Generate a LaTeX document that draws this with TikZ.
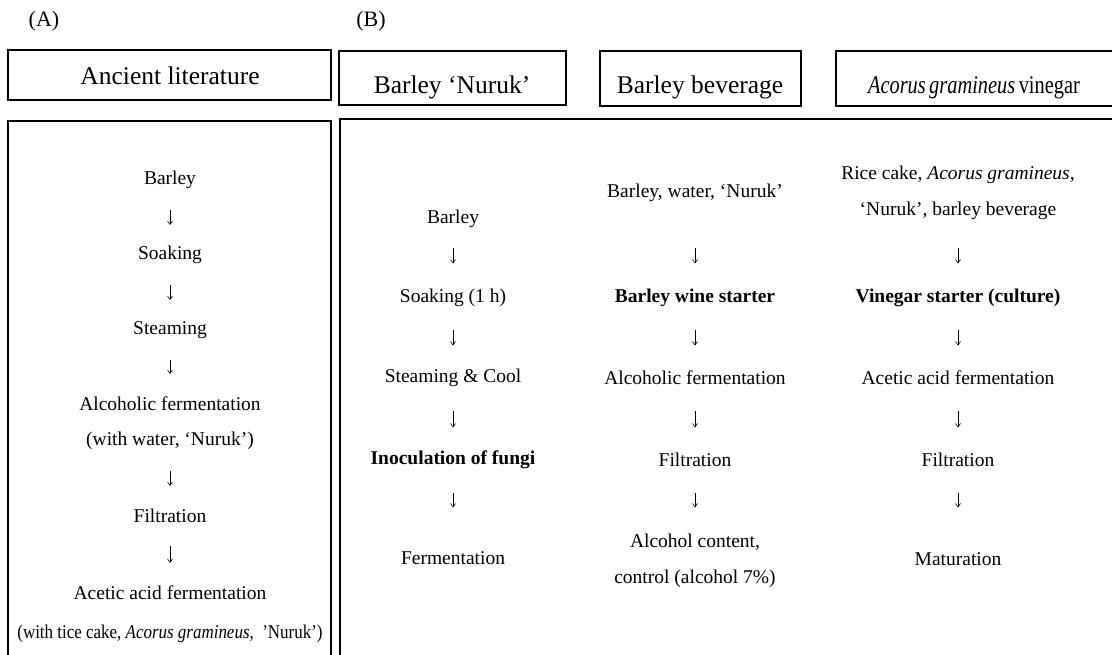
\documentclass[tikz,border=0pt]{standalone}
\usepackage{fontspec}
\setmainfont{Liberation Serif}
\usepackage{graphicx}
\usetikzlibrary{arrows.meta}
\begin{document}
\begin{tikzpicture}[x=1pt,y=-1pt]
			\tikzset{frame/.style={draw=black, line width=1.2pt},
				head/.style={anchor=base, font=\fontsize{25.5}{30}\selectfont},
				tag/.style={anchor=base, font=\fontsize{22}{26}\selectfont},
				item/.style={inner sep=0, font=\fontsize{19.5}{23}\selectfont},
				flow/.style={line width=0.6pt, -{Straight Barb[length=3.5pt,width=5pt]}, shorten <=30pt, shorten >=30pt},
				bflow/.style={flow, shorten <=32.5pt, shorten >=32.5pt}}
\useasboundingbox (0,0) rectangle (1112,655);
\clip (0,0) rectangle (1112,655);

% labels and headers
\node[tag] at (44, 27) (ta) {(A)};
\node[tag] at (371, 27) (tb) {(B)};
\draw[frame] (8, 50) rectangle (331, 100);
\draw[frame] (339, 51) rectangle (566, 105);
\draw[frame] (600, 51) rectangle (801, 106);
\draw[frame] (836, 51) rectangle (1130, 106);
\node[head] at (170, 85) (ha) {Ancient literature};
\node[head] at (452, 94) (hb) {Barley ‘Nuruk’};
\node[head] at (700, 94) (hc) {Barley beverage};
\node[head] at (974, 94) (hd) {\scalebox{0.8}[1]{\textit{Acorus\,gramineus}\,vinegar}};

% big boxes
\draw[frame] (8, 121) rectangle (331, 700);
\draw[frame] (340, 119) rectangle (1130, 700);

% (A) ancient literature
\node[item] at (170, 180) (a1) {Barley};
\node[item] at (170, 255) (a2) {Soaking};
\node[item] at (170, 330) (a3) {Steaming};
\node[item] at (170, 404) (a4) {Alcoholic fermentation};
\node[item] at (170, 441) (a5) {(with water, ‘Nuruk’)};
\node[item] at (170, 516) (a6) {Filtration};
\node[item] at (170, 593) (a7) {Acetic acid fermentation};
\node[item] at (170, 634) (a8) {\scalebox{0.87}[1]{(with tice cake, \textit{Acorus gramineus,}\ \ ’Nuruk’)}};
			\draw [flow] (a1.center) -- (a2.center);
			\draw [flow] (a2.center) -- (a3.center);
			\draw [flow] (a3.center) -- (a4.center);
			\draw [flow] (a5.center) -- (a6.center);
			\draw [flow] (a6.center) -- (a7.center);

% (B) barley nuruk
\node[item] at (453, 219) (b1) {Barley};
\node[item] at (453, 298) (b2) {Soaking (1 h)};
\node[item] at (453, 378) (b3) {Steaming \& Cool};
\node[item] at (453, 460) (b4) {\textbf{Inoculation of fungi}};
\node[item] at (453, 558) (b5) {Fermentation};
			\draw [bflow, shorten <=29.5pt, shorten >=34.5pt] (b1.center) -- (b2.center);
			\draw [bflow] (b2.center) -- (b3.center);
			\draw [bflow] (b3.center) -- (b4.center);
			\draw [bflow, shorten >=50.5pt] (b4.center) -- (b5.center);

% barley beverage
\node[item] at (695, 193) (c1) {Barley, water, ‘Nuruk’};
\node[item] at (695, 298) (c2) {\textbf{Barley wine starter}};
\node[item] at (695, 378) (c3) {Alcoholic fermentation};
\node[item] at (695, 460) (c4) {Filtration};
\node[item] at (695, 542) (c5) {Alcohol content,};
\node[item] at (695, 579) (c6) {control (alcohol 7\%)};
			\draw [bflow, shorten <=55.5pt, shorten >=34.5pt] (c1.center) -- (c2.center);
			\draw [bflow] (c2.center) -- (c3.center);
			\draw [bflow] (c3.center) -- (c4.center);
			\draw [bflow, shorten >=34.5pt] (c4.center) -- (c5.center);

% acorus gramineus vinegar
\node[item] at (958, 175) (d1) {Rice cake, \textit{Acorus gramineus,}};
\node[item] at (958, 211) (d2) {‘Nuruk’\textit{,} barley beverage};
\node[item] at (958, 298) (d3) {\textbf{Vinegar starter (culture)}};
\node[item] at (958, 378) (d4) {Acetic acid fermentation};
\node[item] at (958, 460) (d5) {Filtration};
\node[item] at (958, 559) (d6) {Maturation};
			\draw [bflow, shorten <=37.5pt, shorten >=34.5pt] (d2.center) -- (d3.center);
			\draw [bflow] (d3.center) -- (d4.center);
			\draw [bflow] (d4.center) -- (d5.center);
			\draw [bflow, shorten >=51.5pt] (d5.center) -- (d6.center);
		\end{tikzpicture}
\end{document}
